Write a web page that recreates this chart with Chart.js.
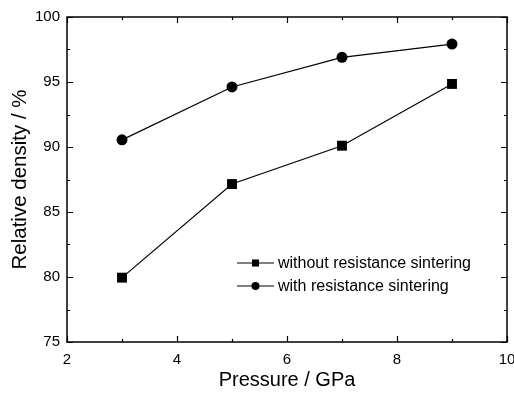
<!DOCTYPE html>
<html>
<head>
<meta charset="utf-8">
<script src="https://cdn.jsdelivr.net/npm/chart.js@4/dist/chart.umd.min.js"></script>
<style>
  html, body { margin: 0; padding: 0; background: #fff; }
  #wrap { width: 514px; height: 395px; }
</style>
</head>
<body>
<div id="wrap"><canvas id="chart"></canvas></div>
<script>
// ---------- data ----------
const pressure = [3, 5, 7, 9];
const withoutSintering = [79.95, 87.15, 90.1, 94.85];
const withSintering = [90.55, 94.62, 96.9, 97.92];
const xTicks = [2, 4, 6, 8, 10];
const yTicks = [75, 80, 85, 90, 95, 100];
const legendLabels = ["without resistance sintering", "with resistance sintering"];

const FONT = "'Liberation Sans', Arial, sans-serif";

// inward ticks on all four sides (major + minor)
const frameTicks = {
  id: "frameTicks",
  afterDraw(chart) {
    const { ctx, chartArea: a, scales: { x, y } } = chart;
    ctx.save();
    ctx.strokeStyle = "#000";
    ctx.lineWidth = 1.2;
    ctx.beginPath();
    for (let v = 2; v <= 10; v += 1) {
      const px = Math.round(x.getPixelForValue(v)) + 0.5;
      const len = v % 2 === 0 ? 6 : 3;
      ctx.moveTo(px, a.bottom); ctx.lineTo(px, a.bottom - len);
      ctx.moveTo(px, a.top); ctx.lineTo(px, a.top + len);
    }
    for (let v = 75; v <= 100; v += 2.5) {
      const py = Math.round(y.getPixelForValue(v)) + 0.5;
      const len = v % 5 === 0 ? 6 : 3;
      ctx.moveTo(a.left, py); ctx.lineTo(a.left + len, py);
      ctx.moveTo(a.right, py); ctx.lineTo(a.right - len, py);
    }
    ctx.stroke();
    ctx.lineWidth = 1.5;
    ctx.strokeRect(a.left, a.top, a.right - a.left, a.bottom - a.top);
    ctx.restore();
  }
};

// legend inside the plot
const innerLegend = {
  id: "innerLegend",
  afterDraw(chart) {
    const { ctx } = chart;
    const x0 = 237, x1 = 274, tx = 278;
    const rows = [263, 286];
    ctx.save();
    chart.data.datasets.forEach((ds, i) => {
      const yy = rows[i];
      ctx.strokeStyle = "#000";
      ctx.lineWidth = 1.2;
      ctx.beginPath();
      ctx.moveTo(x0, yy); ctx.lineTo(x1, yy);
      ctx.stroke();
      Chart.helpers.drawPoint(ctx, { pointStyle: ds.pointStyle, radius: ds.pointStyle === "rect" ? 5 : 4, borderWidth: 0 }, (x0 + x1) / 2, yy);
      ctx.fillStyle = "#000";
      ctx.font = "16px " + FONT;
      ctx.textBaseline = "middle";
      ctx.textAlign = "left";
      ctx.fillText(legendLabels[i], tx, yy + 1);
    });
    ctx.restore();
  }
};

new Chart(document.getElementById("chart"), {
  type: "line",
  data: {
    datasets: [
      {
        label: legendLabels[0],
        data: pressure.map((p, i) => ({ x: p, y: withoutSintering[i] })),
        borderColor: "#000",
        backgroundColor: "#000",
        borderWidth: 1.2,
        pointStyle: "rect",
        pointRadius: 7,
        pointBorderWidth: 0,
        tension: 0
      },
      {
        label: legendLabels[1],
        data: pressure.map((p, i) => ({ x: p, y: withSintering[i] })),
        borderColor: "#000",
        backgroundColor: "#000",
        borderWidth: 1.2,
        pointStyle: "circle",
        pointRadius: 5.5,
        pointBorderWidth: 0,
        tension: 0
      }
    ]
  },
  options: {
    responsive: true,
    maintainAspectRatio: false,
    animation: false,
    layout: { padding: { top: 17, right: 5, left: 0, bottom: 0 } },
    plugins: { legend: { display: false }, tooltip: { enabled: false } },
    scales: {
      x: {
        type: "linear",
        min: 2, max: 10,
        afterBuildTicks: s => { s.ticks = xTicks.map(v => ({ value: v })); },
        afterFit: s => { s.height = 53; s.paddingRight = 0; s.paddingLeft = 0; },
        grid: { display: false, drawTicks: false },
        border: { display: false },
        ticks: { color: "#000", padding: 9, font: { family: FONT, size: 15 }, maxRotation: 0 },
        title: { display: true, text: "Pressure / GPa", color: "#000", font: { family: FONT, size: 20 }, padding: { top: 0, bottom: 3 } }
      },
      y: {
        min: 75, max: 100,
        afterBuildTicks: s => { s.ticks = yTicks.map(v => ({ value: v })); },
        afterFit: s => { s.width = 67; s.paddingTop = 0; s.paddingBottom = 0; },
        grid: { display: false, drawTicks: false },
        border: { display: false },
        ticks: { color: "#000", padding: 7, font: { family: FONT, size: 15 } },
        title: { display: true, text: "Relative density / %", color: "#000", font: { family: FONT, size: 20.5 }, padding: { top: 8, bottom: 0 } }
      }
    }
  },
  plugins: [frameTicks, innerLegend]
});
</script>
</body>
</html>
